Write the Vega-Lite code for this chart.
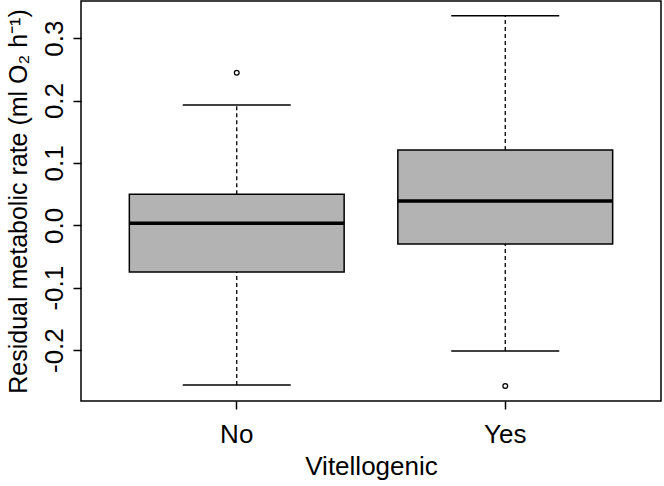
{
  "$schema": "https://vega.github.io/schema/vega-lite/v6.json",
  "width": 580,
  "height": 400,
  "autosize": "none",
  "padding": {"left": 81, "top": 1, "right": 3, "bottom": 85},
  "background": "white",
  "datasets": {
    "boxes": [
      {"group": "No", "lower": -0.256, "q1": -0.0748, "median": 0.0032, "q3": 0.0497, "upper": 0.193},
      {"group": "Yes", "lower": -0.2014, "q1": -0.030, "median": 0.039, "q3": 0.1207, "upper": 0.336}
    ],
    "outliers": [
      {"group": "No", "value": 0.2446},
      {"group": "Yes", "value": -0.2575}
    ]
  },
  "data": {"name": "boxes"},
  "config": {
    "font": "Liberation Sans",
    "view": {"stroke": "#000000", "strokeWidth": 1.5},
    "axis": {
      "domain": false,
      "grid": false,
      "tickColor": "#000000",
      "tickWidth": 1.5,
      "tickSize": 8,
      "labelColor": "#000000",
      "titleColor": "#000000",
      "labelFont": "Liberation Sans",
      "titleFont": "Liberation Sans",
      "labelFontSize": 26,
      "titleFontSize": 26,
      "titleFontWeight": "normal"
    }
  },
  "encoding": {
    "x": {
      "field": "group",
      "type": "nominal",
      "sort": ["No", "Yes"],
      "scale": {"domain": ["No", "Yes"], "paddingInner": 0.2, "paddingOuter": 0.18},
      "axis": {"title": "Vitellogenic", "labelAngle": 0, "labelPadding": 12, "titlePadding": 6}
    }
  },
  "layer": [
    {
      "mark": {"type": "rule", "color": "#000000", "strokeWidth": 1.3, "strokeDash": [4, 3]},
      "encoding": {
        "y": {
          "field": "q3",
          "type": "quantitative",
          "scale": {"domain": [-0.2816, 0.3595], "nice": false, "zero": false},
          "axis": {
            "title": "Residual metabolic rate (ml O₂ h⁻¹)",
            "titleFontSize": 25,
            "values": [-0.2, -0.1, 0, 0.1, 0.2, 0.3],
            "labelExpr": "replace(format(datum.value, '.1f'), '−', '-')",
            "labelAngle": -90,
            "labelAlign": "center",
            "labelBaseline": "bottom",
            "labelPadding": 6,
            "titlePadding": 10
          }
        },
        "y2": {"field": "upper"}
      }
    },
    {
      "mark": {"type": "rule", "color": "#000000", "strokeWidth": 1.3, "strokeDash": [4, 3]},
      "encoding": {
        "y": {"field": "lower", "type": "quantitative"},
        "y2": {"field": "q1"}
      }
    },
    {
      "mark": {"type": "tick", "color": "#000000", "size": 108, "thickness": 1.5, "opacity": 1},
      "encoding": {"y": {"field": "upper", "type": "quantitative"}}
    },
    {
      "mark": {"type": "tick", "color": "#000000", "size": 108, "thickness": 1.5, "opacity": 1},
      "encoding": {"y": {"field": "lower", "type": "quantitative"}}
    },
    {
      "mark": {"type": "bar", "fill": "#b3b3b3", "stroke": "#000000", "strokeWidth": 1.5, "opacity": 1},
      "encoding": {
        "y": {"field": "q1", "type": "quantitative"},
        "y2": {"field": "q3"}
      }
    },
    {
      "mark": {"type": "tick", "color": "#000000", "size": 215, "thickness": 3.5, "opacity": 1},
      "encoding": {"y": {"field": "median", "type": "quantitative"}}
    },
    {
      "data": {"name": "outliers"},
      "mark": {"type": "point", "shape": "circle", "filled": false, "stroke": "#000000", "strokeWidth": 1.3, "size": 22, "opacity": 1},
      "encoding": {"y": {"field": "value", "type": "quantitative"}}
    }
  ]
}
